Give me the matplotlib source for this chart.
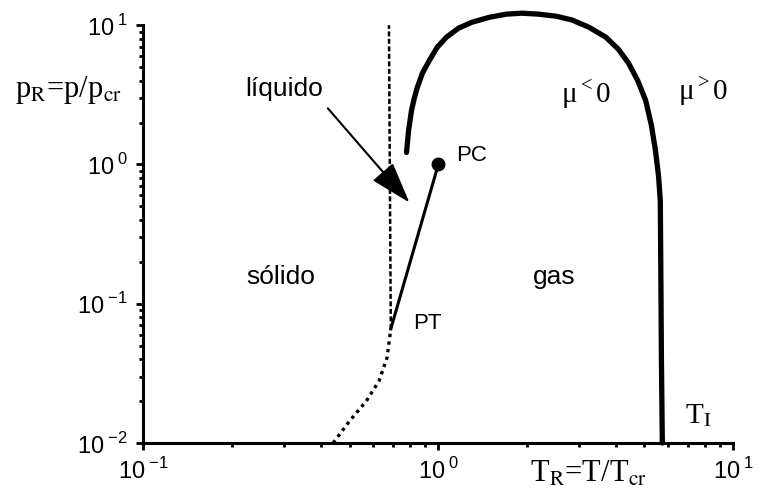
import numpy as np
import matplotlib
matplotlib.use('Agg')
import matplotlib.pyplot as plt
from matplotlib.ticker import FixedLocator, LogLocator, NullFormatter

#%% dados (T_R, p_R)
# curva de inversão (Joule-Thomson)
inv_T = [0.78, 0.793, 0.811, 0.830, 0.849, 0.883, 0.933, 0.992, 1.065, 1.17, 1.30, 1.49, 1.70, 1.92,
         2.19, 2.51, 2.84, 3.24, 3.70, 4.08, 4.42, 4.74, 5.05, 5.28, 5.45, 5.58, 5.66, 5.68, 5.71, 5.75]
inv_p = [1.22, 1.76, 2.44, 3.03, 3.58, 4.52, 5.60, 6.95, 8.2, 9.51, 10.5, 11.4, 12.0, 12.2,
         12.0, 11.6, 10.9, 9.68, 8.2, 6.72, 5.33, 4.02, 2.88, 1.91, 1.26, 0.834, 0.55, 0.20, 0.039, 0.01]

# linha de fusão (tracejada)
fus_T = [0.69, 0.68]
fus_p = [0.066, 10.0]

# linha de sublimação (pontilhada)
sub_T = [0.44, 0.50, 0.57, 0.63, 0.67, 0.69]
sub_p = [0.01, 0.0144, 0.020, 0.028, 0.041, 0.066]

# linha de vaporização PT -> PC
vap_T = [0.69, 1.0]
vap_p = [0.066, 1.0]

xticks = [0.1, 1, 10]
yticks = [0.01, 0.1, 1, 10]
xtick_labels = [r'10$^{\;\mathregular{-1}}$', r'10$^{\;\mathregular{0}}$', r'10$^{\;\mathregular{1}}$']
ytick_labels = [r'10$^{\;\mathregular{-2}}$', r'10$^{\;\mathregular{-1}}$', r'10$^{\;\mathregular{0}}$', r'10$^{\;\mathregular{1}}$']

#%%
sans = 'Liberation Sans'
serif = 'Liberation Serif'

fig = plt.figure(figsize=(7.59, 5.04), dpi=100)
ax = fig.add_axes([0.189, 0.121, 0.777, 0.829])
ax.set_xscale('log')
ax.set_yscale('log')
ax.set_xlim(0.1, 10)
ax.set_ylim(0.01, 10)

ax.plot(inv_T, inv_p, color='k', lw=3.8, solid_capstyle='round', solid_joinstyle='round', clip_on=False)
ax.plot(fus_T, fus_p, color='k', lw=1.8, linestyle=(0, (2.0, 1.0)), clip_on=False)
ax.plot(sub_T, sub_p, color='k', lw=2.4, linestyle=(0, (1.0, 1.3)), clip_on=False)
ax.plot(vap_T, vap_p, color='k', lw=2.2)
ax.plot(vap_T[-1:], vap_p[-1:], 'o', color='k', ms=9)

# seta do líquido
ax.annotate('', xy=(0.798, 0.533), xytext=(0.422, 2.53),
            arrowprops=dict(arrowstyle='-|>,head_length=1.3,head_width=0.42', mutation_scale=20,
                            lw=1.5, color='k', shrinkA=0, shrinkB=0))

# textos
ax.text(0.30, 3.47, 'líquido', fontsize=19, family=sans, ha='center', va='center')
ax.text(1.30, 1.16, 'PC', fontsize=16, family=sans, ha='center', va='center')
ax.text(0.918, 0.0718, 'PT', fontsize=16, family=sans, ha='center', va='center')
ax.text(0.292, 0.156, 'sólido', fontsize=19, family=sans, ha='center', va='center')
ax.text(2.47, 0.156, 'gas', fontsize=19, family=sans, ha='center', va='center')
ax.text(3.18, 3.24, r'μ$^{\mathregular{<}}$0', fontsize=21, family=serif, math_fontfamily='stix',
        ha='center', va='center')
ax.text(7.93, 3.40, r'μ$^{\mathregular{>}}$0', fontsize=21, family=serif, math_fontfamily='stix',
        ha='center', va='center')
ax.text(7.62, 0.0158, r'T$_{\mathrm{I}}$', fontsize=21, family=serif, math_fontfamily='stix',
        ha='center', va='center')

fig.text(0.0896, 0.821, r'p$_{\mathrm{R}}$=p/p$_{\mathrm{cr}}$', fontsize=22, family=serif,
         math_fontfamily='stix', ha='center', va='center')
fig.text(0.775, 0.06, r'T$_{\mathrm{R}}$=T/T$_{\mathrm{cr}}$', fontsize=22, family=serif,
         math_fontfamily='stix', ha='center', va='center')

# eixos
for s in ['top', 'right']:
    ax.spines[s].set_visible(False)
for s in ['left', 'bottom']:
    ax.spines[s].set_linewidth(2.2)

ax.xaxis.set_major_locator(FixedLocator(xticks))
ax.yaxis.set_major_locator(FixedLocator(yticks))
ax.xaxis.set_minor_locator(LogLocator(base=10, subs=np.arange(2, 10)))
ax.yaxis.set_minor_locator(LogLocator(base=10, subs=np.arange(2, 10)))
ax.xaxis.set_minor_formatter(NullFormatter())
ax.yaxis.set_minor_formatter(NullFormatter())
ax.set_xticklabels(xtick_labels, fontsize=17, family=sans)
ax.set_yticklabels(ytick_labels, fontsize=17, family=sans)
ax.tick_params(which='major', direction='out', length=5, width=2, pad=6)
ax.tick_params(which='minor', direction='out', length=3, width=2)

fig.savefig('out.png', dpi=100, facecolor='white')
